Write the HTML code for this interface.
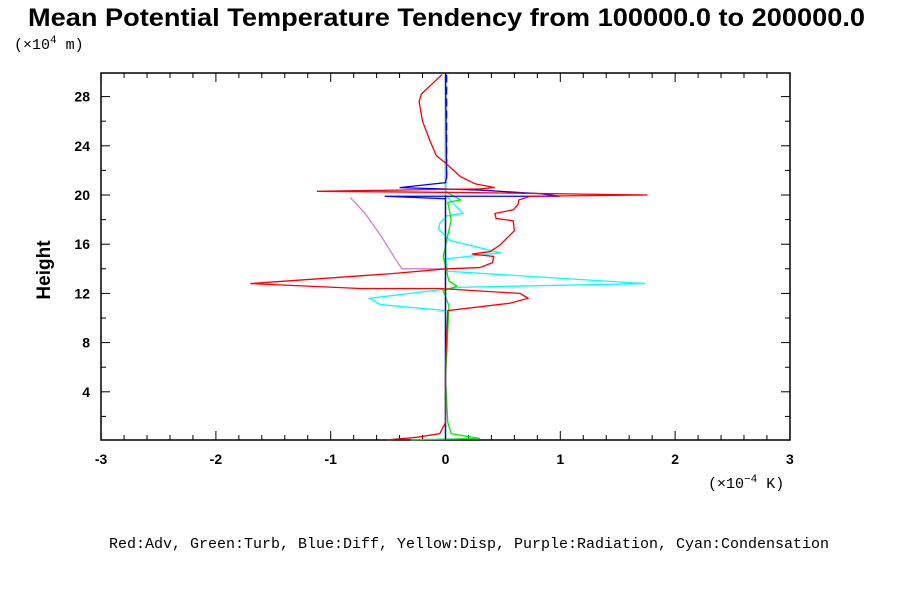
<!DOCTYPE html>
<html><head><meta charset="utf-8"><style>
body{margin:0;background:#fff;}
svg{display:block;font-family:"Liberation Sans",sans-serif;}
</style></head><body>
<svg id="c" width="900" height="600" viewBox="0 0 900 600">
<text x="28" y="26" font-size="25" font-weight="bold" textLength="837" lengthAdjust="spacingAndGlyphs">Mean Potential Temperature Tendency from 100000.0 to 200000.0</text>
<text x="14" y="49" font-size="15" font-family="Liberation Mono, monospace">(×10<tspan dy="-6" font-size="11">4</tspan><tspan dy="6"> m)</tspan></text>
<text x="50" y="270" font-size="19" font-weight="bold" text-anchor="middle" transform="rotate(-90 50 270)">Height</text>
<text x="708" y="488" font-size="15" font-family="Liberation Mono, monospace">(×10<tspan dy="-6" font-size="11">−4</tspan><tspan dy="6"> K)</tspan></text>
<text x="469" y="548" text-anchor="middle" font-size="15" font-family="Liberation Mono, monospace">Red:Adv, Green:Turb, Blue:Diff, Yellow:Disp, Purple:Radiation, Cyan:Condensation</text>
<g id="axes"></g><g id="series"></g>
</svg>
<script>
const xTicks=[-3,-2,-1,0,1,2,3];
const yTicks=[4,8,12,16,20,24,28];
const adv=[[-0.03,29.8],[-0.21,28.2],[-0.23,27.6],[-0.2,26],[-0.135,24.4],[-0.08,23.2],[0,22.6],[0.13,21.5],[0.26,20.9],[0.43,20.6],[0.3,20.5],[-1.12,20.3],[0.2,20.2],[1.76,20.0],[0.74,19.9],[0.64,19.6],[0.63,19.2],[0.59,18.8],[0.43,18.5],[0.44,18.1],[0.59,17.9],[0.6,17.1],[0.47,15.9],[0.39,15.4],[0.23,15.2],[0.42,15.0],[0.41,14.5],[0.3,14.1],[0.01,14.0],[-0.48,13.6],[-1.7,12.8],[-0.74,12.4],[-0.05,12.4],[0.65,12.0],[0.72,11.6],[0.56,11.2],[0.02,10.6],[0,6],[0,1.5],[-0.05,0.6],[-0.25,0.3],[-0.5,0.1]];
const cond=[[0,29.8],[0,20],[0.15,18.5],[0.01,18.3],[-0.05,17.7],[-0.06,17.2],[0.04,16.3],[0.48,15.3],[0,14.8],[0.02,13.8],[1.74,12.8],[0.13,12.5],[-0.66,11.6],[-0.57,11.1],[0,10.6],[0,0.1]];
const diff=[[0,29.8],[0.01,21.5],[0,21],[-0.4,20.6],[0.3,20.4],[0.83,20.1],[1.0,19.9],[-0.53,19.9],[0,19.7],[0,0.1]];
const rad=[[-0.83,19.8],[-0.7,18.5],[-0.55,16.5],[-0.45,15],[-0.38,14.0],[0,14.0],[0,0.1]];
const turb=[[0,20.3],[0.13,19.6],[0.02,19.4],[0.05,18],[-0.02,15],[0.03,13],[0.1,12.6],[-0.02,12.2],[0.03,11],[0,5],[0.02,1.5],[0.05,0.6],[0.3,0.2],[-0.3,0.1]];
const X=v=>445.5+v*114.8, Y=h=>441-h*12.3;
const NS="http://www.w3.org/2000/svg";
const ax=document.getElementById('axes'), se=document.getElementById('series');
function mk(tag,attrs,parent){const e=document.createElementNS(NS,tag);for(const k in attrs)e.setAttribute(k,attrs[k]);parent.appendChild(e);return e;}
const fr=mk('rect',{x:101,y:73,width:689,height:367,fill:'none',stroke:'#000','stroke-width':1.5},ax);


for(let i=-15;i<=15;i++){const v=i/5,x=X(v),L=(i%5===0)?9:5;
 mk('line',{x1:x,y1:440,x2:x,y2:440-L,stroke:'#000'},ax);
 mk('line',{x1:x,y1:73,x2:x,y2:73+L,stroke:'#000'},ax);}
for(let h=2;h<=28;h+=2){const y=Y(h),L=(h%4===0)?9:5;
 mk('line',{x1:101,y1:y,x2:101+L,y2:y,stroke:'#000'},ax);
 mk('line',{x1:790,y1:y,x2:790-L,y2:y,stroke:'#000'},ax);}
xTicks.forEach(v=>{const t=mk('text',{x:X(v),y:464,'text-anchor':'middle','font-size':14,'font-weight':'bold'},ax);t.textContent=v;
 
 });
yTicks.forEach(h=>{const t=mk('text',{x:90,y:Y(h)+5,'text-anchor':'end','font-size':14,'font-weight':'bold'},ax);t.textContent=h;
 
 });
function line(d,col,name,extra){const p=mk('polyline',Object.assign({points:d.map(q=>X(q[0])+','+Y(q[1])).join(' '),fill:'none',stroke:col,'stroke-width':1.3},extra||{}),se);
 
 }
line([[0,29.8],[0,0.1]],'#000','line-total');
line(rad,'#d080d0','line-radiation');
line(cond,'#00ffff','line-condensation');
line(turb,'#00ee00','line-turbulence');
line(diff,'#0000ff','line-diffusion');
line([[0.01,29.8],[0.01,21]],'#0000ff','line-diffusion-dashed',{'stroke-dasharray':'8,4'});
line(adv,'#ff0000','line-advection');
</script>
</body></html>
